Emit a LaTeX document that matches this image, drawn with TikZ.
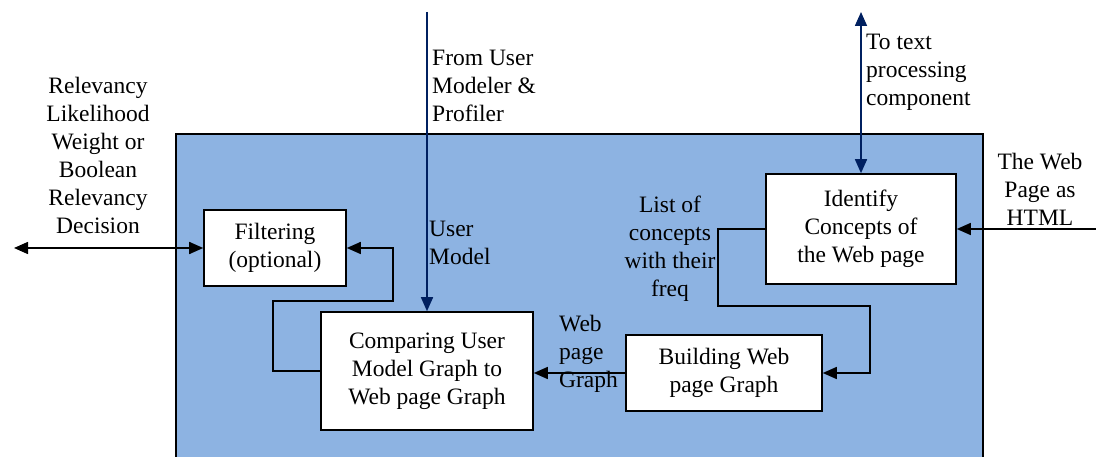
\documentclass[tikz,border=0pt]{standalone}
\usepackage{fontspec}
\setmainfont{Liberation Serif}
\usetikzlibrary{arrows.meta}
\definecolor{panelblue}{RGB}{141,179,226}
\definecolor{navyline}{RGB}{0,32,96}
\tikzset{
  tip/.tip={Triangle[length=14pt,width=12pt]},
  procbox/.style={draw=black, line width=1.6pt, fill=white, align=center, inner sep=0pt},
  lbl/.style={inner sep=0pt},
  flow/.style={line width=1.6pt, -tip},
  twoway/.style={line width=1.6pt, tip-tip},
}
\begin{document}
\begin{tikzpicture}[x=1pt,y=-1pt, font=\fontsize{23.5}{28}\selectfont]
\clip (0,0) rectangle (1096,457);
\fill[white] (0,0) rectangle (1096,457);

% system panel
\draw[line width=1.6pt, fill=panelblue] (176,134) rectangle (983,480);

% processing steps
\node[procbox, minimum width=142pt, minimum height=76pt] (flt) at (275,248) {Filtering\\(optional)};
\node[procbox, minimum width=212pt, minimum height=118pt] (cmp) at (427,371) {Comparing User\\Model Graph to\\Web page Graph};
\node[procbox, minimum width=196pt, minimum height=76pt] (bld) at (724,373) {Building Web\\page Graph};
\node[procbox, minimum width=190pt, minimum height=110pt] (idf) at (861,229) {Identify\\Concepts of\\the Web page};

% free ends of the external flows
\coordinate (umtop) at (427,12);
\coordinate (tptop) at (861,12);
\coordinate (htmlin) at (1096,229);
\coordinate (relout) at (14,248);
% bends of the internal loops
\coordinate (fb1) at (273,301);
\coordinate (fb2) at (393,301);
\coordinate (lc1) at (718,306);
\coordinate (lc2) at (870,306);

% flows
\draw[flow, draw=navyline] (umtop) -- (cmp.north);
\draw[twoway, draw=navyline] (tptop) -- (idf.north);
\draw[flow] (htmlin) -- (idf.east);
\draw[twoway] (relout) -- (flt.west);
\draw[flow] (cmp.west) -| (fb1) -- (fb2) |- (flt.east);
\draw[flow] (idf.west) -| (lc1) -- (lc2) |- (bld.east);
\draw[flow] (bld.west) -- (bld.west -| cmp.east);

% labels
\node[lbl, align=left, anchor=west] (lumm) at (432,86) {From User\\Modeler \&\\Profiler};
\node[lbl, align=left, anchor=west] (lum) at (429,243) {User\\Model};
\node[lbl, align=left, anchor=west] (ltp) at (866,72) {To text\\processing\\component};
\node[lbl, align=center] (lhtml) at (1040,189) {The Web\\Page as\\HTML};
\node[lbl, align=center] (lrel) at (98,155) {Relevancy\\Likelihood\\Weight or\\Boolean\\Relevancy\\Decision};
\node[lbl, align=center] (llist) at (670,249) {List of\\concepts\\with their\\freq};
\node[lbl, align=left, anchor=west] (lwpg) at (559,354) {Web\\page\\Graph};
\end{tikzpicture}
\end{document}
